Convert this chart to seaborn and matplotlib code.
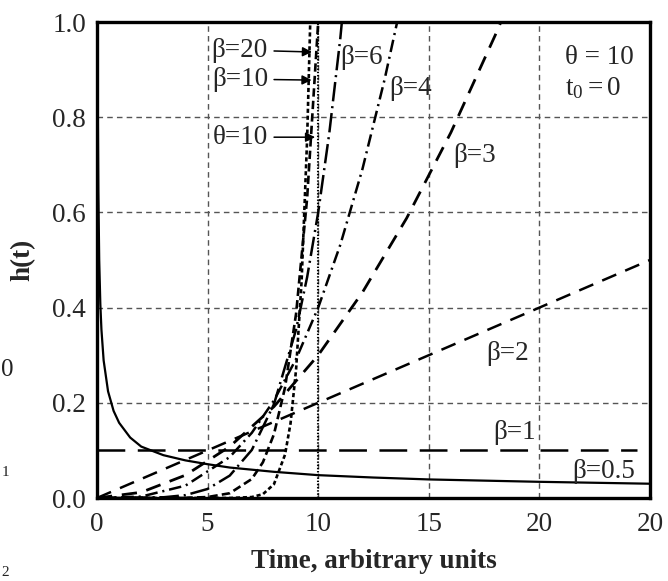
import matplotlib
matplotlib.use("Agg")
import matplotlib.pyplot as plt
import seaborn as sns
import pandas as pd

# ---------------- data ----------------
t_b05 = [0.025, 0.04, 0.06, 0.1, 0.15, 0.2, 0.3, 0.5, 0.75, 1, 1.5, 2, 3, 4, 5, 6, 8, 10, 12.5, 15, 20, 25]
h_b05 = [1.0, 0.79, 0.645, 0.5, 0.408, 0.354, 0.289, 0.224, 0.183, 0.158, 0.127, 0.108, 0.090, 0.079, 0.071, 0.064, 0.055, 0.048, 0.043, 0.039, 0.034, 0.030]

t_b1 = [0, 24.4]
h_b1 = [0.1, 0.1]

t_b2 = [0, 5, 10, 15, 20, 25]
h_b2 = [0.0, 0.1, 0.2, 0.3, 0.4, 0.5]

t_b3 = [0, 2, 4, 6, 8, 10, 12, 14, 16, 18, 18.26]
h_b3 = [0.0, 0.012, 0.048, 0.108, 0.192, 0.3, 0.432, 0.588, 0.768, 0.972, 1.0]

t_b4 = [0, 2, 4, 6, 7, 8, 9, 10, 11, 12, 13, 13.57]
h_b4 = [0.0, 0.003, 0.026, 0.086, 0.137, 0.205, 0.292, 0.4, 0.532, 0.691, 0.879, 1.0]

t_b6 = [0, 3, 4, 5, 6, 7, 8, 9, 9.5, 10, 10.5, 11, 11.07]
h_b6 = [0.0, 0.0015, 0.006, 0.019, 0.047, 0.101, 0.197, 0.354, 0.464, 0.6, 0.766, 0.966, 1.0]

t_b10 = [0, 4, 5, 6, 7, 7.5, 8, 8.5, 9, 9.5, 10]
h_b10 = [0.0, 0.0003, 0.002, 0.010, 0.040, 0.075, 0.134, 0.232, 0.387, 0.630, 1.0]

t_b20 = [0, 6, 7, 7.5, 8, 8.5, 8.75, 9, 9.25, 9.5, 9.64]
h_b20 = [0.0, 0.0, 0.002, 0.008, 0.029, 0.091, 0.157, 0.270, 0.456, 0.755, 1.0]

t_theta = [10, 10]
h_theta = [0.0, 1.0]

x_ticks = [0, 5, 10, 15, 20, 25]
x_tick_labels = ["0", "5", "10", "15", "20", "20"]
y_ticks = [0.0, 0.2, 0.4, 0.6, 0.8, 1.0]
y_tick_labels = ["0.0", "0.2", "0.4", "0.6", "0.8", "1.0"]

# ---------------- style ----------------
sns.set_theme(style="white")
plt.rcParams["font.family"] = ["Liberation Serif", "DejaVu Serif"]
plt.rcParams["mathtext.fontset"] = "custom"
plt.rcParams["mathtext.rm"] = "Liberation Serif"
plt.rcParams["mathtext.it"] = "Liberation Serif"
plt.rcParams["lines.scale_dashes"] = False

FS = 19.5

fig = plt.figure(figsize=(6.68, 5.81), dpi=100)
ax = fig.add_axes([97 / 668, 83 / 581, 553 / 668, 476 / 581])

curves = [
    (t_b05, h_b05, "-", 1.6),
    (t_b1, h_b1, (0, (20, 9)), 1.8),
    (t_b2, h_b2, (0, (11, 7)), 1.8),
    (t_b3, h_b3, (0, (11, 7)), 2.0),
    (t_b4, h_b4, (0, (9, 3.5, 1.5, 3.5)), 1.8),
    (t_b6, h_b6, (0, (14, 3.5, 1.5, 3.5)), 1.8),
    (t_b10, h_b10, (0, (6, 3)), 1.9),
    (t_b20, h_b20, (0, (3, 2)), 1.9),
    (t_theta, h_theta, (0, (1, 1.3)), 1.5),
]
for t, h, ls, lw in curves:
    df = pd.DataFrame({"t": t, "h": h})
    sns.lineplot(data=df, x="t", y="h", ax=ax, color="black", linestyle=ls,
                 linewidth=lw, sort=False, estimator=None, errorbar=None)

ax.set_xlim(0, 25)
ax.set_ylim(0, 1.0)
ax.set_xticks(x_ticks)
ax.set_xticklabels(x_tick_labels, fontsize=FS)
ax.set_yticks(y_ticks)
ax.set_yticklabels(y_tick_labels, fontsize=FS)
ax.tick_params(axis="x", length=0, pad=10)
ax.tick_params(axis="y", length=0, pad=8)

ax.grid(True, color="#555555", linestyle=(0, (4, 3)), linewidth=1.0)
for s in ax.spines.values():
    s.set_color("black")
    s.set_linewidth(2.4)

ax.set_xlabel("Time, arbitrary units", fontsize=FS, fontweight="bold", labelpad=9)
ax.set_ylabel("h(t)", fontsize=FS, fontweight="bold", labelpad=12)

# curve labels
ax.text(11.94, 0.926, "β=6", fontsize=FS, ha="center", va="center")
ax.text(14.19, 0.861, "β=4", fontsize=FS, ha="center", va="center")
ax.text(17.07, 0.72, "β=3", fontsize=FS, ha="center", va="center")
ax.text(18.56, 0.303, "β=2", fontsize=FS, ha="center", va="center")
ax.text(18.87, 0.137, "β=1", fontsize=FS, ha="center", va="center")
ax.text(22.9, 0.055, "β=0.5", fontsize=FS, ha="center", va="center")

ax.text(21.16, 0.926, "θ = 10", fontsize=FS, ha="left", va="center")
ax.text(21.16, 0.861, r"$\mathregular{t_0 = 0}$", fontsize=FS, ha="left", va="center")

arrow = dict(arrowstyle="-|>", color="black", lw=1.1, mutation_scale=14,
             shrinkA=2, shrinkB=0)
ax.annotate("β=20", xy=(9.72, 0.937), xytext=(7.73, 0.941), fontsize=FS,
            ha="right", va="center", arrowprops=arrow)
ax.annotate("β=10", xy=(9.70, 0.878), xytext=(7.73, 0.880), fontsize=FS,
            ha="right", va="center", arrowprops=arrow)
ax.annotate("θ=10", xy=(9.86, 0.758), xytext=(7.73, 0.758), fontsize=FS,
            ha="right", va="center", arrowprops=arrow)

# stray fragments at the left border of the reference
fig.text(0.001, 1 - 370 / 581, "0", fontsize=18, ha="left", va="center", color="#222222")
fig.text(0.002, 1 - 473 / 581, "1", fontsize=11, ha="left", va="center", color="#222222")
fig.text(0.002, 1 - 573 / 581, "2", fontsize=11, ha="left", va="center", color="#222222")

fig.savefig("out.png", dpi=100)
